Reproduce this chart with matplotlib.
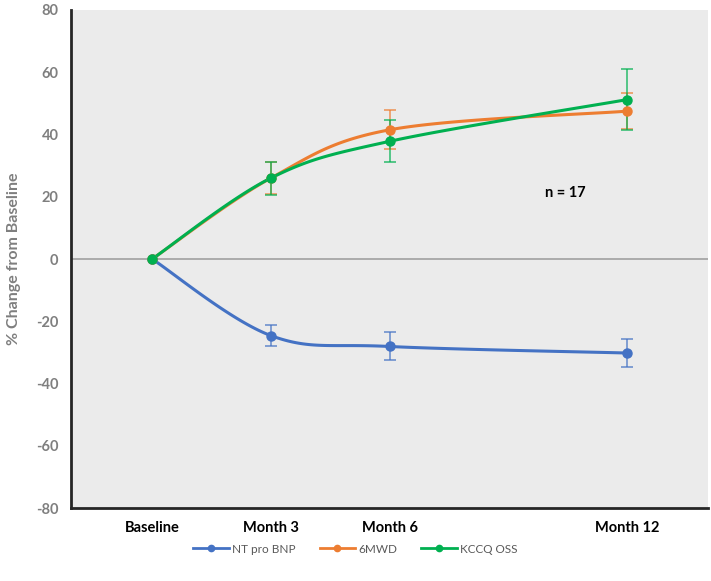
import numpy as np
import matplotlib
matplotlib.use("Agg")
import matplotlib.pyplot as plt

plt.rcParams['font.family'] = ['Lato', 'DejaVu Sans']
plt.rcParams['axes.unicode_minus'] = False

months = [0, 3, 6, 12]
month_labels = ["Baseline", "Month 3", "Month 6", "Month 12"]

ntprobnp = [0, -24.6, -28.1, -30.2]
ntprobnp_err = [0, 3.5, 4.5, 4.4]
smwd = [0, 26.0, 41.5, 47.5]
smwd_err = [0, 5.2, 6.3, 5.8]
kccq = [0, 26.0, 37.8, 51.2]
kccq_err = [0, 5.3, 6.7, 9.8]

series = [
    ("NT pro BNP", ntprobnp, ntprobnp_err, "#4472C4"),
    ("6MWD", smwd, smwd_err, "#ED7D31"),
    ("KCCQ OSS", kccq, kccq_err, "#00B050"),
]


def smooth(x, y, n=40):
    # excel-like smoothed line (cardinal bezier)
    x = np.asarray(x, float)
    y = np.asarray(y, float)
    px = np.concatenate([[x[0]], x, [x[-1]]])
    py = np.concatenate([[y[0]], y, [y[-1]]])
    xs, ys = [], []
    t = np.linspace(0, 1, n)
    for i in range(1, len(px) - 2):
        p0 = np.array([px[i], py[i]])
        p3 = np.array([px[i + 1], py[i + 1]])
        p1 = p0 + (np.array([px[i + 1], py[i + 1]]) - np.array([px[i - 1], py[i - 1]])) / 6
        p2 = p3 - (np.array([px[i + 2], py[i + 2]]) - np.array([px[i], py[i]])) / 6
        b = ((1 - t) ** 3)[:, None] * p0 + (3 * (1 - t) ** 2 * t)[:, None] * p1 \
            + (3 * (1 - t) * t ** 2)[:, None] * p2 + (t ** 3)[:, None] * p3
        xs.extend(b[:, 0])
        ys.extend(b[:, 1])
    return xs, ys


fig = plt.figure(figsize=(7.11, 5.81), dpi=100)
ax = fig.add_axes([0.0999, 0.1256, 0.8959, 0.8572])
ax.set_facecolor("#EBEBEB")

ax.axhline(0, color="#A6A6A6", lw=1.3, zorder=1)

for name, vals, err, col in series:
    sx, sy = smooth(months, vals)
    ax.plot(sx, sy, color=col, lw=2.2, zorder=3)
    ax.errorbar(months[1:], vals[1:], yerr=err[1:], fmt="none", ecolor=col,
                elinewidth=1.2, capsize=4, capthick=1.2, alpha=0.75, zorder=2)
    ax.plot(months, vals, "o", color=col, ms=6.5, zorder=4)
    ax.plot([], [], "-o", color=col, lw=2, ms=4.5, label=name)

ax.text(10.45, 21.3, "n = 17", fontsize=10.5, fontweight="bold", ha="center", va="center")

ax.set_xlim(-2.05, 14.05)
ax.set_ylim(-80, 80)
ax.set_yticks(range(-80, 81, 20))
ax.set_xticks(months)
ax.set_xticklabels(month_labels, fontsize=10.5, fontweight="bold", color="black")
for lab in ax.get_yticklabels():
    lab.set_fontsize(10.5)
    lab.set_fontweight("bold")
    lab.set_color("#7F7F7F")
ax.tick_params(axis="both", length=0)
ax.tick_params(axis="x", pad=9)
ax.tick_params(axis="y", pad=9)

ax.set_ylabel("% Change from Baseline", fontsize=11.5, fontweight="bold", color="#7F7F7F")
ax.yaxis.set_label_coords(-0.078, 0.5)

for s in ["top", "right"]:
    ax.spines[s].set_visible(False)
for s in ["left", "bottom"]:
    ax.spines[s].set_linewidth(2)
    ax.spines[s].set_color("#262626")

leg = fig.legend(loc="center", bbox_to_anchor=(0.5, 0.055), ncol=3, frameon=False,
                 fontsize=8.5, handlelength=3, columnspacing=2.0, handletextpad=0.3)
for t in leg.get_texts():
    t.set_color("#595959")

fig.savefig("out.png", dpi=100, facecolor="white")
